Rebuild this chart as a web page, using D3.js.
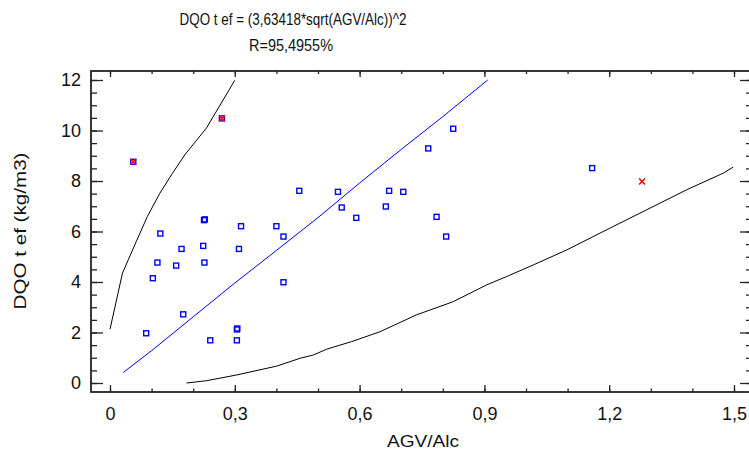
<!DOCTYPE html>
<html>
<head>
<meta charset="utf-8">
<script src="https://cdn.jsdelivr.net/npm/d3@7"></script>
<style>
  body { margin: 0; background: #fff; }
  svg { display: block; }
  text { font-family: "Liberation Sans", Arial, sans-serif; fill: #111; }
</style>
</head>
<body>
<div id="chart"></div>
<script>
var width = 749;
var height = 452;

// observed points (AGV/Alc, DQO t ef)
var agvAlc = [0.056, 0.269, 0.455, 0.121, 0.226, 0.228, 0.315, 0.400, 0.417, 0.172, 0.224, 0.310,
              0.114, 0.159, 0.227, 0.103, 0.417, 0.176, 0.087, 0.305, 0.306, 0.241, 0.305,
              0.548, 0.671, 0.705, 0.557, 0.663, 0.592, 0.765, 0.825, 0.785, 0.808, 1.159];
var dqo = [8.76, 10.48, 7.61, 5.92, 6.45, 6.48, 6.21, 6.21, 5.80, 5.31, 5.43, 5.31,
           4.77, 4.65, 4.77, 4.15, 3.99, 2.72, 1.97, 2.12, 2.16, 1.69, 1.69,
           7.57, 7.61, 7.57, 6.95, 6.99, 6.54, 9.29, 10.07, 6.58, 5.80, 8.51];

// flagged points (red crosses)
var outX = [0.056, 0.269, 1.279];
var outY = [8.76, 10.48, 7.98];

// fitted model line
var fitX = [0.032, 0.1, 0.2, 0.3, 0.4, 0.5, 0.6, 0.7, 0.8, 0.908];
var fitY = [0.42, 1.28, 2.62, 3.96, 5.25, 6.55, 7.92, 9.25, 10.55, 12.0];

// upper prediction limit
var upX = [0.0, 0.030, 0.044, 0.063, 0.090, 0.120, 0.150, 0.180, 0.232, 0.300];
var upY = [2.13, 4.35, 4.88, 5.60, 6.60, 7.52, 8.30, 9.04, 10.10, 11.99];

// lower prediction limit
var loX = [0.184, 0.232, 0.305, 0.401, 0.457, 0.489, 0.521, 0.581, 0.649, 0.737, 0.825, 0.906,
           0.954, 1.018, 1.098, 1.194, 1.290, 1.386, 1.474, 1.498];
var loY = [0.0, 0.09, 0.32, 0.67, 0.98, 1.11, 1.34, 1.64, 2.03, 2.70, 3.22, 3.89,
           4.22, 4.68, 5.27, 6.07, 6.86, 7.65, 8.31, 8.55];

var xMajor = [0, 0.3, 0.6, 0.9, 1.2, 1.5];
var xMinor = d3.range(0, 16).map(function (i) { return i / 10; });
var yMajor = [0, 2, 4, 6, 8, 10, 12];
var yMinor = d3.range(0, 25).map(function (i) { return i / 2; });

var frameLeft = 91, frameRight = 750, frameTop = 71, frameBottom = 392;

var x = d3.scaleLinear().domain([0, 1.5]).range([110, 734]);
var y = d3.scaleLinear().domain([0, 12]).range([383, 80]);

var svg = d3.select("#chart").append("svg")
    .attr("width", width)
    .attr("height", height);

function fmt(d) {
    return d === 0 ? "0" : d3.format(".1f")(d).replace(".", ",");
}

function axisGroup(axis, tx, ty) {
    var g = svg.append("g")
        .attr("transform", "translate(" + tx + "," + ty + ")")
        .call(axis);
    g.select(".domain").remove();
    g.selectAll("line").attr("stroke", "#222").attr("stroke-width", 1.3);
    g.selectAll("text").style("font-size", "18px").style("font-family", "Liberation Sans, Arial, sans-serif").attr("fill", "#111");
    return g;
}

// bottom
axisGroup(d3.axisBottom(x).tickValues(xMinor).tickSize(-3.5).tickFormat(""), 0, frameBottom);
axisGroup(d3.axisBottom(x).tickValues(xMajor).tickSize(-7).tickPadding(15).tickFormat(fmt), 0, frameBottom);
// top
axisGroup(d3.axisTop(x).tickValues(xMinor).tickSize(-3).tickFormat(""), 0, frameTop);
axisGroup(d3.axisTop(x).tickValues(xMajor).tickSize(-6).tickFormat(""), 0, frameTop);
// left
axisGroup(d3.axisLeft(y).tickValues(yMinor).tickSize(-6).tickFormat(""), frameLeft, 0);
axisGroup(d3.axisLeft(y).tickValues(yMajor).tickSize(-12).tickPadding(10).tickFormat(d3.format("d")), frameLeft, 0);
// right
axisGroup(d3.axisRight(y).tickValues(yMinor).tickSize(-4).tickFormat(""), frameRight, 0);
axisGroup(d3.axisRight(y).tickValues(yMajor).tickSize(-10).tickFormat(""), frameRight, 0);

// frame
svg.append("rect")
    .attr("x", frameLeft).attr("y", frameTop)
    .attr("width", frameRight - frameLeft).attr("height", frameBottom - frameTop)
    .attr("fill", "none").attr("stroke", "#222").attr("stroke-width", 1.8);

var line = d3.line()
    .x(function (d) { return x(d[0]); })
    .y(function (d) { return y(d[1]); });

svg.append("path")
    .datum(d3.zip(upX, upY))
    .attr("d", line).attr("fill", "none").attr("stroke", "#000").attr("stroke-width", 1);

svg.append("path")
    .datum(d3.zip(loX, loY))
    .attr("d", line).attr("fill", "none").attr("stroke", "#000").attr("stroke-width", 1);

svg.append("path")
    .datum(d3.zip(fitX, fitY))
    .attr("d", line).attr("fill", "none").attr("stroke", "#0000ff").attr("stroke-width", 1);

svg.selectAll("rect.pt").data(d3.zip(agvAlc, dqo))
    .enter().append("rect")
    .attr("class", "pt")
    .attr("x", function (d) { return x(d[0]) - 2.5; })
    .attr("y", function (d) { return y(d[1]) - 2.5; })
    .attr("width", 5).attr("height", 5)
    .attr("fill", "none").attr("stroke", "#0000ff").attr("stroke-width", 1.4);

var cross = svg.selectAll("g.out").data(d3.zip(outX, outY))
    .enter().append("g")
    .attr("class", "out")
    .attr("transform", function (d) { return "translate(" + x(d[0]) + "," + y(d[1]) + ")"; });
cross.append("path")
    .attr("d", "M-3,-3L3,3M-3,3L3,-3")
    .attr("stroke", "#ff0000").attr("stroke-width", 1.5).attr("fill", "none");

// titles
svg.append("text")
    .attr("x", 293).attr("y", 25)
    .attr("text-anchor", "middle")
    .attr("textLength", 227).attr("lengthAdjust", "spacingAndGlyphs")
    .style("font-size", "17px")
    .text("DQO t ef = (3,63418*sqrt(AGV/Alc))^2");

svg.append("text")
    .attr("x", 291).attr("y", 51)
    .attr("text-anchor", "middle")
    .attr("textLength", 84).attr("lengthAdjust", "spacingAndGlyphs")
    .style("font-size", "17px")
    .text("R=95,4955%");

svg.append("text")
    .attr("x", 423).attr("y", 447)
    .attr("text-anchor", "middle")
    .attr("textLength", 72).attr("lengthAdjust", "spacingAndGlyphs")
    .style("font-size", "17px")
    .text("AGV/Alc");

svg.append("text")
    .attr("transform", "translate(26,231) rotate(-90)")
    .attr("text-anchor", "middle")
    .attr("textLength", 157).attr("lengthAdjust", "spacingAndGlyphs")
    .style("font-size", "17px")
    .text("DQO t ef (kg/m3)");
</script>
</body>
</html>
